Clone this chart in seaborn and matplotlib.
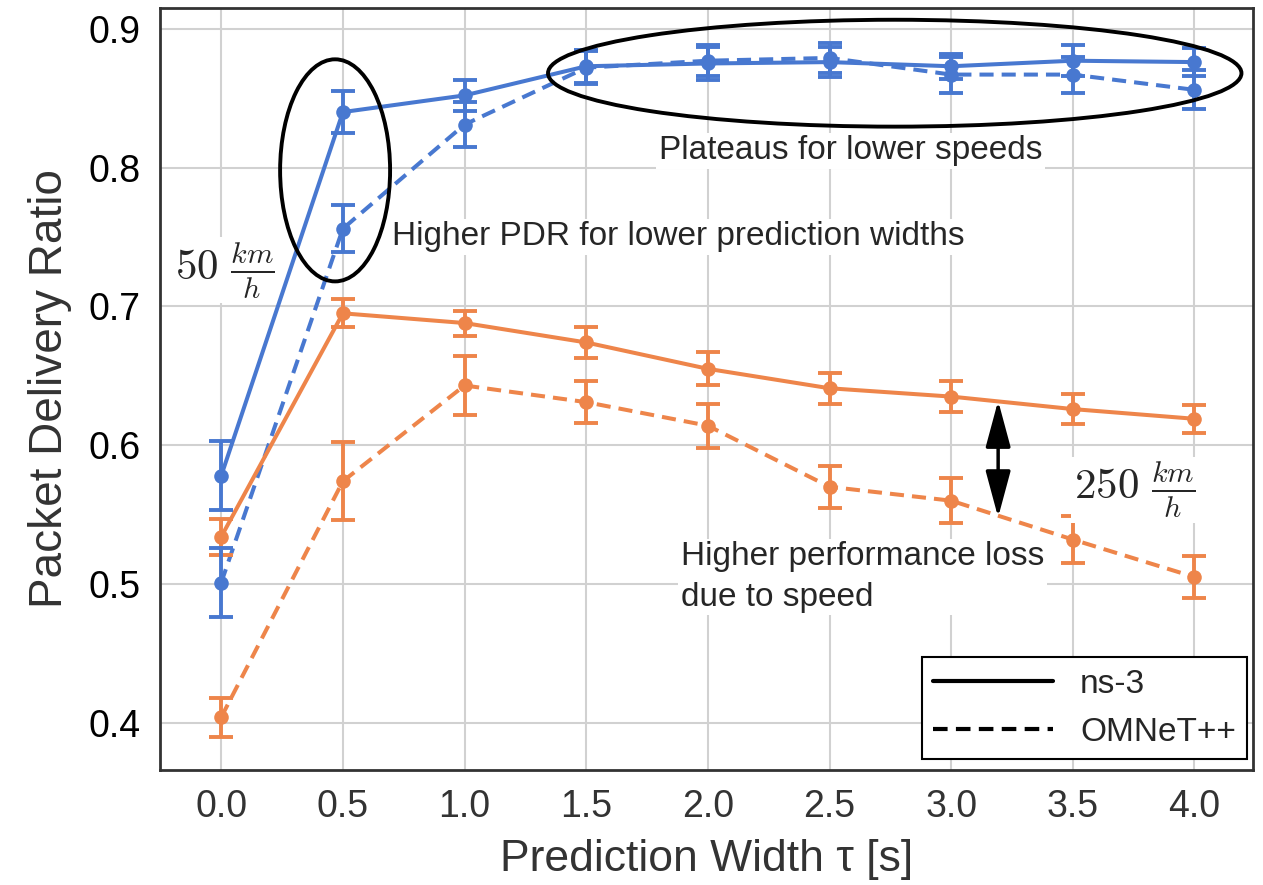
import numpy as np
import pandas as pd
import seaborn as sns
import matplotlib.pyplot as plt
from matplotlib.patches import Ellipse
from matplotlib.lines import Line2D

# data
tau = [0.0, 0.5, 1.0, 1.5, 2.0, 2.5, 3.0, 3.5, 4.0]

pdr_ns3_50 = [0.578, 0.840, 0.852, 0.873, 0.875, 0.876, 0.873, 0.877, 0.876]
err_ns3_50 = [0.025, 0.015, 0.011, 0.012, 0.012, 0.011, 0.009, 0.011, 0.010]
pdr_omnet_50 = [0.501, 0.756, 0.831, 0.872, 0.877, 0.879, 0.867, 0.867, 0.856]
err_omnet_50 = [0.025, 0.017, 0.016, 0.012, 0.011, 0.011, 0.013, 0.013, 0.014]

pdr_ns3_250 = [0.534, 0.695, 0.688, 0.674, 0.655, 0.641, 0.635, 0.626, 0.619]
err_ns3_250 = [0.013, 0.010, 0.009, 0.011, 0.012, 0.011, 0.011, 0.011, 0.010]
pdr_omnet_250 = [0.404, 0.574, 0.643, 0.631, 0.614, 0.570, 0.560, 0.532, 0.505]
err_omnet_250 = [0.014, 0.028, 0.021, 0.015, 0.016, 0.015, 0.016, 0.017, 0.015]

simulators = ["ns-3", "OMNeT++"]
speeds = ["50 km/h", "250 km/h"]

#%% long format table
rows = []
for speed, sim, pdr, err in [(speeds[0], simulators[0], pdr_ns3_50, err_ns3_50),
                             (speeds[0], simulators[1], pdr_omnet_50, err_omnet_50),
                             (speeds[1], simulators[0], pdr_ns3_250, err_ns3_250),
                             (speeds[1], simulators[1], pdr_omnet_250, err_omnet_250)]:
    for t, p, e in zip(tau, pdr, err):
        rows.append({"tau": t, "PDR": p, "err": e, "Simulator": sim, "Speed": speed})
df = pd.DataFrame(rows)

#%% style
sns.set_theme(style="whitegrid")
plt.rcParams["font.family"] = ["Liberation Sans", "DejaVu Sans"]
plt.rcParams["mathtext.fontset"] = "cm"
plt.rcParams["axes.edgecolor"] = ".2"
plt.rcParams["axes.linewidth"] = 2.0
plt.rcParams["grid.color"] = ".82"
plt.rcParams["grid.linewidth"] = 1.5

colors = {speeds[0]: "#4878D0", speeds[1]: "#EE854A"}

fig = plt.figure(figsize=(12.63, 8.85), dpi=100)
ax = fig.add_axes([0.127, 0.130, 0.865, 0.861])

sns.lineplot(data=df, x="tau", y="PDR", hue="Speed", style="Simulator",
             palette=colors, dashes={"ns-3": "", "OMNeT++": (3.5, 2.0)},
             markers={"ns-3": "o", "OMNeT++": "o"}, markersize=10.5,
             markeredgewidth=0, linewidth=2.9, legend=False, ax=ax)

for (speed, sim), g in df.groupby(["Speed", "Simulator"]):
    ax.errorbar(g["tau"], g["PDR"], yerr=g["err"], fmt="none",
                ecolor=colors[speed], elinewidth=2.8, capsize=8.5, capthick=2.8)

# annotations
ax.add_patch(Ellipse((0.468, 0.798), 0.452, 0.160, fill=False, ec="black", lw=2.8, zorder=5))
ax.add_patch(Ellipse((2.768, 0.868), 2.85, 0.077, fill=False, ec="black", lw=2.8, zorder=5))

box = dict(facecolor="white", edgecolor="none", pad=2)
ax.text(0.70, 0.750, "Higher PDR for lower prediction widths", fontsize=24,
        ha="left", va="center", bbox=box, zorder=4)
ax.text(2.587, 0.812, "Plateaus for lower speeds", fontsize=24,
        ha="center", va="center", bbox=box, zorder=4)
ax.text(1.89, 0.505, "Higher performance loss\ndue to speed", fontsize=24,
        ha="left", va="center", bbox=box, zorder=4, linespacing=1.4)
ax.text(0.015, 0.726, r"$50\ \frac{km}{h}$", fontsize=31,
        ha="center", va="center", bbox=box, zorder=4)
ax.text(3.754, 0.568, r"$250\ \frac{km}{h}$", fontsize=31,
        ha="center", va="center", bbox=box, zorder=4)

ax.annotate("", xy=(3.193, 0.632), xytext=(3.193, 0.548),
            arrowprops=dict(arrowstyle="<|-|>,head_length=1.3,head_width=0.35",
                            color="black", lw=2.5, mutation_scale=22,
                            shrinkA=0, shrinkB=0), zorder=6)

# axes
ax.set_xlim(-0.25, 4.24)
ax.set_ylim(0.366, 0.915)
ax.set_xticks(tau)
ax.set_xticklabels([f"{t:.1f}" for t in tau])
ax.set_yticks([0.4, 0.5, 0.6, 0.7, 0.8, 0.9])
ax.set_yticklabels(["0.4", "0.5", "0.6", "0.7", "0.8", "0.9"])
ax.tick_params(axis="both", labelsize=27, colors="black", pad=8)
ax.tick_params(axis="x", labelcolor=".2")
ax.set_xlabel("Prediction Width τ [s]", fontsize=32, color=".2", labelpad=10)
ax.set_ylabel("Packet Delivery Ratio", fontsize=33, color=".2", labelpad=12)
for s in ax.spines.values():
    s.set_color(".2")

handles = [Line2D([], [], color="black", lw=3, ls="-"),
           Line2D([], [], color="black", lw=3, ls=(0, (3.5, 2)))]
leg = ax.legend(handles, simulators, loc="lower right", fontsize=24,
                frameon=True, fancybox=False, edgecolor="black", framealpha=1,
                handlelength=3.6, borderpad=0.35, borderaxespad=0,
                bbox_to_anchor=(0.995, 0.014))
leg.get_frame().set_linewidth(1.5)

plt.savefig("out.png", dpi=100)
